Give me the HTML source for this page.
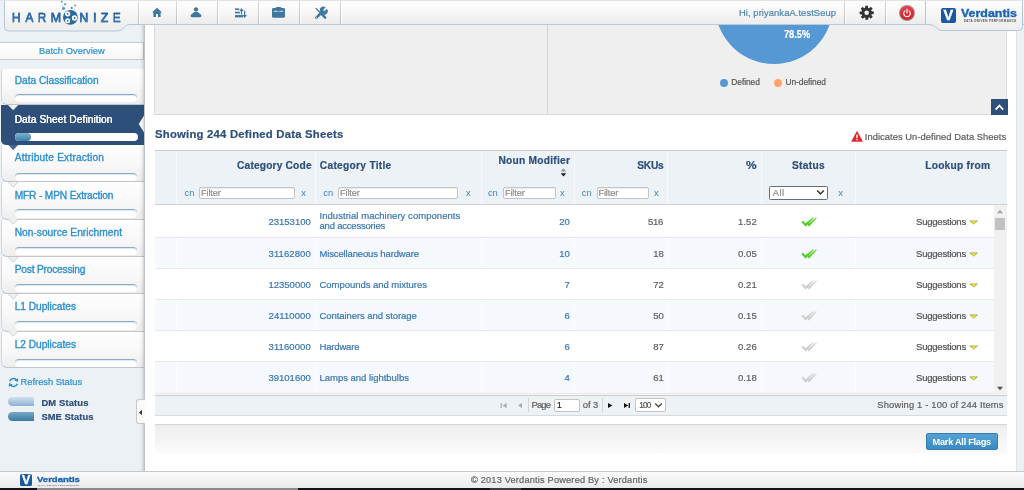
<!DOCTYPE html>
<html><head><meta charset="utf-8"><title>Harmonize</title>
<style>
html,body{margin:0;padding:0}
body{width:1024px;height:490px;position:relative;overflow:hidden;background:#fff;font-family:"Liberation Sans",sans-serif}
#w{position:absolute;left:0;top:0;width:1024px;height:490px;will-change:transform}
.a{position:absolute}
.t{position:absolute;white-space:nowrap;-webkit-text-stroke-width:0.2px}
</style></head><body><div id="w">
<div class="a" style="left:0px;top:0px;width:144.5px;height:471px;background:#ecf1f6"></div>
<div class="a" style="left:1016px;top:0px;width:8px;height:471px;background:#ecf1f6;border-left:1px solid #dde3e9;box-sizing:border-box"></div>
<div class="a" style="left:154px;top:25px;width:853px;height:90px;background:#efefef;border:1px solid #dadada;border-top:none;box-sizing:border-box;overflow:hidden"><div class="a" style="left:391.5px;top:0;width:1px;height:90px;background:#d2d2d2"></div><div class="a" style="left:559.7px;top:-79.7px;width:118.6px;height:118.6px;border-radius:60px;background:#5698d4"></div></div>
<span class="t" style="left:783.80px;top:27px;font-size:10.00px;line-height:15px;color:#fff;font-weight:bold;transform-origin:0 0;transform:scaleX(0.9203);">78.5%</span>
<div class="a" style="left:719.7px;top:78.5px;width:8px;height:8px;border-radius:4px;background:#5698d4"></div>
<span class="t" style="left:731.30px;top:75px;font-size:8.40px;line-height:14px;color:#555;font-weight:normal;letter-spacing:-0.062px;">Defined</span>
<div class="a" style="left:773.8px;top:78.5px;width:8px;height:8px;border-radius:4px;background:#ffa36c"></div>
<span class="t" style="left:785.50px;top:75px;font-size:8.40px;line-height:14px;color:#555;font-weight:normal;letter-spacing:-0.054px;">Un-defined</span>
<div class="a" style="left:991px;top:99px;width:16.5px;height:16px;background:#2d4f7a"><svg width="17" height="16" viewBox="0 0 17 16" style="position:absolute;left:0;top:0"><path d="M4.6,10.6 L8.4,6.6 L12.2,10.6" stroke="#fff" stroke-width="1.7" fill="none"/></svg></div>
<span class="t" style="left:155.00px;top:126px;font-size:11.30px;line-height:16px;color:#2d4f7a;font-weight:bold;letter-spacing:0.229px;">Showing 244 Defined Data Sheets</span>
<svg class="a" style="left:851px;top:131px" width="12" height="11" viewBox="0 0 12 11"><path d="M6,0.5 L11.3,10.3 L0.7,10.3 Z" fill="#e3242b" stroke="#e3242b" stroke-width="0.8" stroke-linejoin="round"/><rect x="5.3" y="3.6" width="1.4" height="3.6" fill="#fff"/><rect x="5.3" y="8" width="1.4" height="1.3" fill="#fff"/></svg>
<span class="t" style="left:864.80px;top:129px;font-size:9.40px;line-height:15px;color:#5c5c5c;font-weight:normal;letter-spacing:0.039px;">Indicates Un-defined Data Sheets</span>
<div class="a" style="left:155px;top:150px;width:852px;height:54.5px;background:#edf2f7;border-top:1px solid #c9c9c9;border-bottom:1px solid #cfcfcf;box-sizing:border-box"></div>
<div class="a" style="left:176px;top:151px;width:1px;height:53px;background:#f7fafc"></div>
<div class="a" style="left:315px;top:151px;width:1px;height:53px;background:#f7fafc"></div>
<div class="a" style="left:480.5px;top:151px;width:1px;height:53px;background:#f7fafc"></div>
<div class="a" style="left:573.7px;top:151px;width:1px;height:53px;background:#f7fafc"></div>
<div class="a" style="left:667.3px;top:151px;width:1px;height:53px;background:#f7fafc"></div>
<div class="a" style="left:761px;top:151px;width:1px;height:53px;background:#f7fafc"></div>
<div class="a" style="left:854.5px;top:151px;width:1px;height:53px;background:#f7fafc"></div>
<span class="t" style="left:237.00px;top:158px;font-size:10.20px;line-height:15px;color:#2d4f7a;font-weight:bold;letter-spacing:0.178px;">Category Code</span>
<span class="t" style="left:319.80px;top:158px;font-size:10.20px;line-height:15px;color:#2d4f7a;font-weight:bold;letter-spacing:0.288px;">Category Title</span>
<span class="t" style="left:498.40px;top:153px;font-size:10.20px;line-height:15px;color:#2d4f7a;font-weight:bold;letter-spacing:0.260px;">Noun Modifier</span>
<span class="t" style="left:637.30px;top:158px;font-size:10.20px;line-height:15px;color:#2d4f7a;font-weight:bold;letter-spacing:-0.262px;">SKUs</span>
<span class="t" style="left:746.00px;top:158px;font-size:10.20px;line-height:15px;color:#2d4f7a;font-weight:bold;transform-origin:0 0;transform:scaleX(1.1697);">%</span>
<span class="t" style="left:792.00px;top:158px;font-size:10.20px;line-height:15px;color:#2d4f7a;font-weight:bold;letter-spacing:0.292px;">Status</span>
<span class="t" style="left:925.20px;top:158px;font-size:10.20px;line-height:15px;color:#2d4f7a;font-weight:bold;letter-spacing:0.255px;">Lookup from</span>
<svg class="a" style="left:560px;top:168px" width="7" height="9" viewBox="0 0 7 9"><path d="M3.5,0.3 L6.3,3.6 L0.7,3.6 Z" fill="#999"/><path d="M3.5,8.6 L6.3,5.2 L0.7,5.2 Z" fill="#222"/></svg>
<span class="t" style="left:184.60px;top:185px;font-size:9.40px;line-height:15px;color:#3d84c2;font-weight:normal;letter-spacing:0.000px;-webkit-text-stroke-width:0;">cn</span><div class="a" style="left:199.2px;top:187.3px;width:95.6px;height:11.4px;background:#fff;border:1px solid #c4c4c4;border-radius:2px;box-sizing:border-box;box-shadow:inset 0 1px 1px rgba(0,0,0,.08)"></div><span class="t" style="left:201.00px;top:186px;font-size:9.20px;line-height:14px;color:#8d8d8d;font-weight:normal;letter-spacing:-0.124px;">Filter</span><span class="t" style="left:301.20px;top:185px;font-size:9.40px;line-height:15px;color:#3d84c2;font-weight:normal;letter-spacing:0.000px;-webkit-text-stroke-width:0;">x</span>
<span class="t" style="left:323.20px;top:185px;font-size:9.40px;line-height:15px;color:#3d84c2;font-weight:normal;letter-spacing:0.000px;-webkit-text-stroke-width:0;">cn</span><div class="a" style="left:338.2px;top:187.3px;width:120.3px;height:11.4px;background:#fff;border:1px solid #c4c4c4;border-radius:2px;box-sizing:border-box;box-shadow:inset 0 1px 1px rgba(0,0,0,.08)"></div><span class="t" style="left:340.00px;top:186px;font-size:9.20px;line-height:14px;color:#8d8d8d;font-weight:normal;letter-spacing:-0.124px;">Filter</span><span class="t" style="left:466.00px;top:185px;font-size:9.40px;line-height:15px;color:#3d84c2;font-weight:normal;letter-spacing:0.000px;-webkit-text-stroke-width:0;">x</span>
<span class="t" style="left:487.90px;top:185px;font-size:9.40px;line-height:15px;color:#3d84c2;font-weight:normal;letter-spacing:0.000px;-webkit-text-stroke-width:0;">cn</span><div class="a" style="left:503.1px;top:187.3px;width:52.5px;height:11.4px;background:#fff;border:1px solid #c4c4c4;border-radius:2px;box-sizing:border-box;box-shadow:inset 0 1px 1px rgba(0,0,0,.08)"></div><span class="t" style="left:504.90px;top:186px;font-size:9.20px;line-height:14px;color:#8d8d8d;font-weight:normal;letter-spacing:-0.124px;">Filter</span><span class="t" style="left:559.90px;top:185px;font-size:9.40px;line-height:15px;color:#3d84c2;font-weight:normal;letter-spacing:0.000px;-webkit-text-stroke-width:0;">x</span>
<span class="t" style="left:581.70px;top:185px;font-size:9.40px;line-height:15px;color:#3d84c2;font-weight:normal;letter-spacing:0.000px;-webkit-text-stroke-width:0;">cn</span><div class="a" style="left:596.6px;top:187.3px;width:52.7px;height:11.4px;background:#fff;border:1px solid #c4c4c4;border-radius:2px;box-sizing:border-box;box-shadow:inset 0 1px 1px rgba(0,0,0,.08)"></div><span class="t" style="left:598.40px;top:186px;font-size:9.20px;line-height:14px;color:#8d8d8d;font-weight:normal;letter-spacing:-0.124px;">Filter</span><span class="t" style="left:653.90px;top:185px;font-size:9.40px;line-height:15px;color:#3d84c2;font-weight:normal;letter-spacing:0.000px;-webkit-text-stroke-width:0;">x</span>
<div class="a" style="left:768.6px;top:186px;width:59.6px;height:14px;background:#fff;border:1.5px solid #6b6b6b;border-radius:1.5px;box-sizing:border-box"></div>
<span class="t" style="left:772.70px;top:185px;font-size:9.40px;line-height:15px;color:#8a8a8a;font-weight:normal;letter-spacing:0.439px;">All</span>
<svg class="a" style="left:816px;top:189px" width="9" height="7" viewBox="0 0 9 7"><path d="M1.2,1.6 L4.5,5 L7.8,1.6" stroke="#333" stroke-width="1.5" fill="none"/></svg>
<span class="t" style="left:838.20px;top:185px;font-size:9.40px;line-height:15px;color:#3d84c2;font-weight:normal;letter-spacing:0.000px;-webkit-text-stroke-width:0;">x</span>
<div class="a" style="left:155px;top:204.5px;width:838.5px;height:33.5px;background:#fff;border-bottom:1px solid #e9e9e9;box-sizing:border-box"></div>
<span class="t" style="left:268.51px;top:214px;font-size:9.50px;line-height:15px;color:#3a76b1;font-weight:normal;letter-spacing:-0.006px;">23153100</span>
<span class="t" style="left:319.50px;top:208px;font-size:9.50px;line-height:15px;color:#3a76b1;font-weight:normal;letter-spacing:0.045px;">Industrial machinery components</span>
<span class="t" style="left:319.50px;top:218px;font-size:9.50px;line-height:15px;color:#3a76b1;font-weight:normal;letter-spacing:-0.208px;">and accessories</span>
<span class="t" style="left:559.19px;top:214px;font-size:9.50px;line-height:15px;color:#3a76b1;font-weight:normal;letter-spacing:0.000px;">20</span>
<span class="t" style="left:647.91px;top:214px;font-size:9.50px;line-height:15px;color:#5e5e5e;font-weight:normal;letter-spacing:-0.260px;">516</span>
<span class="t" style="left:738.00px;top:214px;font-size:9.50px;line-height:15px;color:#5e5e5e;font-weight:normal;letter-spacing:0.083px;">1.52</span>
<svg class="a" style="left:799.5px;top:216.4px" width="18" height="12" viewBox="0 0 18 12"><path d="M1.50,6.00 L3.10,4.80 L5.30,7.50 L13.10,1.50 L13.60,1.90 L5.50,10.40 Z" fill="#4fce22" stroke="#4fce22" stroke-width="0.25" stroke-linejoin="round"/><path d="M6.50,7.30 L7.80,6.30 L8.90,7.70 L16.10,1.40 L16.60,1.80 L9.00,10.40 Z" fill="#4fce22" stroke="#4fce22" stroke-width="0.25" stroke-linejoin="round"/></svg>
<span class="t" style="left:916.00px;top:214px;font-size:9.50px;line-height:15px;color:#505050;font-weight:normal;letter-spacing:-0.210px;">Suggestions</span>
<svg class="a" style="left:969px;top:219.7px" width="10" height="6" viewBox="0 0 10 6"><path d="M0.9,0.9 L8.5,0.9 L4.7,4 Z" fill="#f5ea2e" stroke="#9a962e" stroke-width="0.7" stroke-linejoin="round"/></svg>
<div class="a" style="left:155px;top:238px;width:838.5px;height:31px;background:#f5f9fd;border-bottom:1px solid #e9e9e9;box-sizing:border-box"></div>
<div class="a" style="left:176px;top:238px;width:1px;height:30px;background:#fbfdfe"></div>
<div class="a" style="left:315px;top:238px;width:1px;height:30px;background:#fbfdfe"></div>
<div class="a" style="left:480.5px;top:238px;width:1px;height:30px;background:#fbfdfe"></div>
<div class="a" style="left:573.7px;top:238px;width:1px;height:30px;background:#fbfdfe"></div>
<div class="a" style="left:667.3px;top:238px;width:1px;height:30px;background:#fbfdfe"></div>
<div class="a" style="left:761px;top:238px;width:1px;height:30px;background:#fbfdfe"></div>
<div class="a" style="left:854.5px;top:238px;width:1px;height:30px;background:#fbfdfe"></div>
<span class="t" style="left:268.51px;top:246px;font-size:9.50px;line-height:15px;color:#3a76b1;font-weight:normal;letter-spacing:0.097px;">31162800</span>
<span class="t" style="left:319.50px;top:246px;font-size:9.50px;line-height:15px;color:#3a76b1;font-weight:normal;letter-spacing:-0.141px;">Miscellaneous hardware</span>
<span class="t" style="left:559.19px;top:246px;font-size:9.50px;line-height:15px;color:#3a76b1;font-weight:normal;letter-spacing:0.000px;">10</span>
<span class="t" style="left:653.19px;top:246px;font-size:9.50px;line-height:15px;color:#5e5e5e;font-weight:normal;letter-spacing:0.000px;">18</span>
<span class="t" style="left:738.00px;top:246px;font-size:9.50px;line-height:15px;color:#5e5e5e;font-weight:normal;letter-spacing:0.083px;">0.05</span>
<svg class="a" style="left:799.5px;top:248.4px" width="18" height="12" viewBox="0 0 18 12"><path d="M1.50,6.00 L3.10,4.80 L5.30,7.50 L13.10,1.50 L13.60,1.90 L5.50,10.40 Z" fill="#4fce22" stroke="#4fce22" stroke-width="0.25" stroke-linejoin="round"/><path d="M6.50,7.30 L7.80,6.30 L8.90,7.70 L16.10,1.40 L16.60,1.80 L9.00,10.40 Z" fill="#4fce22" stroke="#4fce22" stroke-width="0.25" stroke-linejoin="round"/></svg>
<span class="t" style="left:916.00px;top:246px;font-size:9.50px;line-height:15px;color:#505050;font-weight:normal;letter-spacing:-0.210px;">Suggestions</span>
<svg class="a" style="left:969px;top:251.7px" width="10" height="6" viewBox="0 0 10 6"><path d="M0.9,0.9 L8.5,0.9 L4.7,4 Z" fill="#f5ea2e" stroke="#9a962e" stroke-width="0.7" stroke-linejoin="round"/></svg>
<div class="a" style="left:155px;top:269px;width:838.5px;height:31px;background:#fff;border-bottom:1px solid #e9e9e9;box-sizing:border-box"></div>
<span class="t" style="left:268.51px;top:277px;font-size:9.50px;line-height:15px;color:#3a76b1;font-weight:normal;letter-spacing:-0.006px;">12350000</span>
<span class="t" style="left:319.50px;top:277px;font-size:9.50px;line-height:15px;color:#3a76b1;font-weight:normal;letter-spacing:-0.036px;">Compounds and mixtures</span>
<span class="t" style="left:564.47px;top:277px;font-size:9.50px;line-height:15px;color:#3a76b1;font-weight:normal;letter-spacing:0.000px;">7</span>
<span class="t" style="left:653.19px;top:277px;font-size:9.50px;line-height:15px;color:#5e5e5e;font-weight:normal;letter-spacing:0.000px;">72</span>
<span class="t" style="left:738.00px;top:277px;font-size:9.50px;line-height:15px;color:#5e5e5e;font-weight:normal;letter-spacing:0.083px;">0.21</span>
<svg class="a" style="left:799.5px;top:279.4px" width="18" height="12" viewBox="0 0 18 12"><path d="M1.50,6.00 L3.10,4.80 L5.30,7.50 L13.10,1.50 L13.60,1.90 L5.50,10.40 Z" fill="#cdcdcd" stroke="#cdcdcd" stroke-width="0.25" stroke-linejoin="round"/><path d="M6.50,7.30 L7.80,6.30 L8.90,7.70 L16.10,1.40 L16.60,1.80 L9.00,10.40 Z" fill="#cdcdcd" stroke="#cdcdcd" stroke-width="0.25" stroke-linejoin="round"/></svg>
<span class="t" style="left:916.00px;top:277px;font-size:9.50px;line-height:15px;color:#505050;font-weight:normal;letter-spacing:-0.210px;">Suggestions</span>
<svg class="a" style="left:969px;top:282.7px" width="10" height="6" viewBox="0 0 10 6"><path d="M0.9,0.9 L8.5,0.9 L4.7,4 Z" fill="#f5ea2e" stroke="#9a962e" stroke-width="0.7" stroke-linejoin="round"/></svg>
<div class="a" style="left:155px;top:300px;width:838.5px;height:31px;background:#f5f9fd;border-bottom:1px solid #e9e9e9;box-sizing:border-box"></div>
<div class="a" style="left:176px;top:300px;width:1px;height:30px;background:#fbfdfe"></div>
<div class="a" style="left:315px;top:300px;width:1px;height:30px;background:#fbfdfe"></div>
<div class="a" style="left:480.5px;top:300px;width:1px;height:30px;background:#fbfdfe"></div>
<div class="a" style="left:573.7px;top:300px;width:1px;height:30px;background:#fbfdfe"></div>
<div class="a" style="left:667.3px;top:300px;width:1px;height:30px;background:#fbfdfe"></div>
<div class="a" style="left:761px;top:300px;width:1px;height:30px;background:#fbfdfe"></div>
<div class="a" style="left:854.5px;top:300px;width:1px;height:30px;background:#fbfdfe"></div>
<span class="t" style="left:268.51px;top:308px;font-size:9.50px;line-height:15px;color:#3a76b1;font-weight:normal;letter-spacing:0.097px;">24110000</span>
<span class="t" style="left:319.50px;top:308px;font-size:9.50px;line-height:15px;color:#3a76b1;font-weight:normal;letter-spacing:-0.072px;">Containers and storage</span>
<span class="t" style="left:564.47px;top:308px;font-size:9.50px;line-height:15px;color:#3a76b1;font-weight:normal;letter-spacing:0.000px;">6</span>
<span class="t" style="left:653.19px;top:308px;font-size:9.50px;line-height:15px;color:#5e5e5e;font-weight:normal;letter-spacing:0.000px;">50</span>
<span class="t" style="left:738.00px;top:308px;font-size:9.50px;line-height:15px;color:#5e5e5e;font-weight:normal;letter-spacing:0.083px;">0.15</span>
<svg class="a" style="left:799.5px;top:310.4px" width="18" height="12" viewBox="0 0 18 12"><path d="M1.50,6.00 L3.10,4.80 L5.30,7.50 L13.10,1.50 L13.60,1.90 L5.50,10.40 Z" fill="#cdcdcd" stroke="#cdcdcd" stroke-width="0.25" stroke-linejoin="round"/><path d="M6.50,7.30 L7.80,6.30 L8.90,7.70 L16.10,1.40 L16.60,1.80 L9.00,10.40 Z" fill="#cdcdcd" stroke="#cdcdcd" stroke-width="0.25" stroke-linejoin="round"/></svg>
<span class="t" style="left:916.00px;top:308px;font-size:9.50px;line-height:15px;color:#505050;font-weight:normal;letter-spacing:-0.210px;">Suggestions</span>
<svg class="a" style="left:969px;top:313.7px" width="10" height="6" viewBox="0 0 10 6"><path d="M0.9,0.9 L8.5,0.9 L4.7,4 Z" fill="#f5ea2e" stroke="#9a962e" stroke-width="0.7" stroke-linejoin="round"/></svg>
<div class="a" style="left:155px;top:331px;width:838.5px;height:31px;background:#fff;border-bottom:1px solid #e9e9e9;box-sizing:border-box"></div>
<span class="t" style="left:268.51px;top:339px;font-size:9.50px;line-height:15px;color:#3a76b1;font-weight:normal;letter-spacing:0.097px;">31160000</span>
<span class="t" style="left:319.50px;top:339px;font-size:9.50px;line-height:15px;color:#3a76b1;font-weight:normal;letter-spacing:-0.170px;">Hardware</span>
<span class="t" style="left:564.47px;top:339px;font-size:9.50px;line-height:15px;color:#3a76b1;font-weight:normal;letter-spacing:0.000px;">6</span>
<span class="t" style="left:653.19px;top:339px;font-size:9.50px;line-height:15px;color:#5e5e5e;font-weight:normal;letter-spacing:0.000px;">87</span>
<span class="t" style="left:738.00px;top:339px;font-size:9.50px;line-height:15px;color:#5e5e5e;font-weight:normal;letter-spacing:0.083px;">0.26</span>
<svg class="a" style="left:799.5px;top:341.4px" width="18" height="12" viewBox="0 0 18 12"><path d="M1.50,6.00 L3.10,4.80 L5.30,7.50 L13.10,1.50 L13.60,1.90 L5.50,10.40 Z" fill="#cdcdcd" stroke="#cdcdcd" stroke-width="0.25" stroke-linejoin="round"/><path d="M6.50,7.30 L7.80,6.30 L8.90,7.70 L16.10,1.40 L16.60,1.80 L9.00,10.40 Z" fill="#cdcdcd" stroke="#cdcdcd" stroke-width="0.25" stroke-linejoin="round"/></svg>
<span class="t" style="left:916.00px;top:339px;font-size:9.50px;line-height:15px;color:#505050;font-weight:normal;letter-spacing:-0.210px;">Suggestions</span>
<svg class="a" style="left:969px;top:344.7px" width="10" height="6" viewBox="0 0 10 6"><path d="M0.9,0.9 L8.5,0.9 L4.7,4 Z" fill="#f5ea2e" stroke="#9a962e" stroke-width="0.7" stroke-linejoin="round"/></svg>
<div class="a" style="left:155px;top:362px;width:838.5px;height:32px;background:#f5f9fd;border-bottom:1px solid #e9e9e9;box-sizing:border-box"></div>
<div class="a" style="left:176px;top:362px;width:1px;height:31px;background:#fbfdfe"></div>
<div class="a" style="left:315px;top:362px;width:1px;height:31px;background:#fbfdfe"></div>
<div class="a" style="left:480.5px;top:362px;width:1px;height:31px;background:#fbfdfe"></div>
<div class="a" style="left:573.7px;top:362px;width:1px;height:31px;background:#fbfdfe"></div>
<div class="a" style="left:667.3px;top:362px;width:1px;height:31px;background:#fbfdfe"></div>
<div class="a" style="left:761px;top:362px;width:1px;height:31px;background:#fbfdfe"></div>
<div class="a" style="left:854.5px;top:362px;width:1px;height:31px;background:#fbfdfe"></div>
<span class="t" style="left:268.51px;top:370px;font-size:9.50px;line-height:15px;color:#3a76b1;font-weight:normal;letter-spacing:-0.006px;">39101600</span>
<span class="t" style="left:319.50px;top:370px;font-size:9.50px;line-height:15px;color:#3a76b1;font-weight:normal;letter-spacing:-0.016px;">Lamps and lightbulbs</span>
<span class="t" style="left:564.47px;top:370px;font-size:9.50px;line-height:15px;color:#3a76b1;font-weight:normal;letter-spacing:0.000px;">4</span>
<span class="t" style="left:653.19px;top:370px;font-size:9.50px;line-height:15px;color:#5e5e5e;font-weight:normal;letter-spacing:0.000px;">61</span>
<span class="t" style="left:738.00px;top:370px;font-size:9.50px;line-height:15px;color:#5e5e5e;font-weight:normal;letter-spacing:0.083px;">0.18</span>
<svg class="a" style="left:799.5px;top:372.4px" width="18" height="12" viewBox="0 0 18 12"><path d="M1.50,6.00 L3.10,4.80 L5.30,7.50 L13.10,1.50 L13.60,1.90 L5.50,10.40 Z" fill="#cdcdcd" stroke="#cdcdcd" stroke-width="0.25" stroke-linejoin="round"/><path d="M6.50,7.30 L7.80,6.30 L8.90,7.70 L16.10,1.40 L16.60,1.80 L9.00,10.40 Z" fill="#cdcdcd" stroke="#cdcdcd" stroke-width="0.25" stroke-linejoin="round"/></svg>
<span class="t" style="left:916.00px;top:370px;font-size:9.50px;line-height:15px;color:#505050;font-weight:normal;letter-spacing:-0.210px;">Suggestions</span>
<svg class="a" style="left:969px;top:375.7px" width="10" height="6" viewBox="0 0 10 6"><path d="M0.9,0.9 L8.5,0.9 L4.7,4 Z" fill="#f5ea2e" stroke="#9a962e" stroke-width="0.7" stroke-linejoin="round"/></svg>
<div class="a" style="left:993.5px;top:204.5px;width:13.5px;height:190px;background:#f1f1f1"></div>
<div class="a" style="left:995px;top:217.7px;width:10px;height:12.6px;background:#c1c1c1"></div>
<svg class="a" style="left:996px;top:209px" width="8" height="5" viewBox="0 0 8 5"><path d="M4,0.8 L7,4.2 L1,4.2 Z" fill="#a3a3a3"/></svg>
<svg class="a" style="left:996px;top:385.5px" width="8" height="5" viewBox="0 0 8 5"><path d="M4,4.2 L7,0.8 L1,0.8 Z" fill="#505050"/></svg>
<div class="a" style="left:155px;top:394px;width:852px;height:1px;background:#f6f7f8"></div>
<div class="a" style="left:155px;top:395px;width:852px;height:21px;background:#edf2f7;border-top:1px solid #cdcdcd;border-bottom:1px solid #d9d9d9;box-sizing:border-box"></div>
<svg class="a" style="left:500px;top:401.5px" width="8" height="7" viewBox="0 0 8 7"><rect x="0.6" y="1" width="1.2" height="5" fill="#a9a9a9"/><path d="M6.6,1 L6.6,6 L2.6,3.5 Z" fill="#a9a9a9"/></svg>
<svg class="a" style="left:517px;top:401.5px" width="6" height="7" viewBox="0 0 6 7"><path d="M5,1 L5,6 L1,3.5 Z" fill="#a9a9a9"/></svg>
<div class="a" style="left:527.5px;top:398px;width:1px;height:14px;background:#d5d5d5"></div>
<span class="t" style="left:531.50px;top:397px;font-size:9.40px;line-height:15px;color:#5e5e5e;font-weight:normal;letter-spacing:-0.802px;">Page</span>
<div class="a" style="left:554.4px;top:398.6px;width:25.4px;height:13.2px;background:#fff;border:1px solid #c4c4c4;border-radius:2px;box-sizing:border-box"></div>
<span class="t" style="left:557.00px;top:398px;font-size:8.60px;line-height:14px;color:#222;font-weight:normal;letter-spacing:0.000px;">1</span>
<span class="t" style="left:582.80px;top:397px;font-size:9.40px;line-height:15px;color:#5e5e5e;font-weight:normal;letter-spacing:-0.047px;">of 3</span>
<div class="a" style="left:601.5px;top:398px;width:1px;height:14px;background:#d5d5d5"></div>
<svg class="a" style="left:607px;top:401.5px" width="6" height="7" viewBox="0 0 6 7"><path d="M1,1 L1,6 L5.4,3.5 Z" fill="#111"/></svg>
<svg class="a" style="left:623px;top:401.5px" width="8" height="7" viewBox="0 0 8 7"><path d="M1,1 L1,6 L5.2,3.5 Z" fill="#111"/><rect x="5.6" y="1" width="1.3" height="5" fill="#111"/></svg>
<div class="a" style="left:635.4px;top:398.3px;width:30.8px;height:13.5px;background:#fff;border:1px solid #c4c4c4;border-radius:2px;box-sizing:border-box"></div>
<span class="t" style="left:639.30px;top:398px;font-size:8.30px;line-height:14px;color:#555;font-weight:normal;letter-spacing:-0.922px;">100</span>
<svg class="a" style="left:654px;top:402px" width="9" height="7" viewBox="0 0 9 7"><path d="M1.2,1.4 L4.5,4.8 L7.8,1.4" stroke="#4a4a4a" stroke-width="1.4" fill="none"/></svg>
<span class="t" style="left:877.30px;top:397px;font-size:9.40px;line-height:15px;color:#5e5e5e;font-weight:normal;letter-spacing:0.157px;">Showing 1 - 100 of 244 Items</span>
<div class="a" style="left:155px;top:424px;width:852px;height:28.5px;border-top:1px solid #d4d4d4;background:linear-gradient(#eeeeee,#fafafa);box-sizing:border-box"></div>
<div class="a" style="left:926.3px;top:433px;width:71.7px;height:17.3px;background:linear-gradient(#55a2d5,#3a8bc3);border:1px solid #2f7db3;border-radius:2px;box-sizing:border-box"></div>
<span class="t" style="left:932.60px;top:435px;font-size:9.20px;line-height:14px;color:#fff;font-weight:bold;letter-spacing:-0.258px;-webkit-text-stroke-width:0;">Mark All Flags</span>
<div class="a" style="left:0px;top:471px;width:1024px;height:17px;background:linear-gradient(#fbfbfb,#e9e9e9);border-top:1px solid #c6c6c6;box-sizing:border-box"></div>
<div class="a" style="left:0px;top:488px;width:1024px;height:2px;background:#10131c"></div>
<div class="a" style="left:36.5px;top:488px;width:261.5px;height:2px;background:#8a8a8a"></div>
<div class="a" style="left:489.5px;top:488px;width:31.5px;height:2px;background:#3a3d45"></div>
<div class="a" style="left:19.8px;top:473.7px;width:12.5px;height:12.5px;background:#1b58a1;border-radius:1.625px"></div><span class="a" style="left:19.8px;top:473.7px;width:12.5px;text-align:center;color:#fff;font-weight:bold;font-size:12.5px;line-height:13.25px;-webkit-text-stroke:0.4px #fff">V</span><span class="t" style="left:36.70px;top:473px;font-size:7.80px;line-height:13px;color:#1c63b3;font-weight:bold;transform-origin:0 0;transform:scaleX(1.2219);-webkit-text-stroke:0.35px #1c63b3;">Verdantis</span><span class="t" style="left:38.60px;top:482px;font-size:2.20px;line-height:6px;color:#55555c;font-weight:bold;letter-spacing:0.364px;-webkit-text-stroke-width:0;">DATA DRIVEN PERFORMANCE</span>
<span class="t" style="left:471.00px;top:473px;font-size:9.20px;line-height:14px;color:#636363;font-weight:normal;letter-spacing:0.201px;">&copy; 2013 Verdantis Powered By : Verdantis</span>
<div class="a" style="left:0px;top:41.5px;width:143.5px;height:18px;background:linear-gradient(#fff,#f6f6f6);border:1px solid #c8c8c8;border-left:none;box-sizing:border-box"></div>
<span class="t" style="left:39.00px;top:44px;font-size:9.30px;line-height:14px;color:#2b8fcf;font-weight:normal;letter-spacing:0.053px;">Batch Overview</span>
<div class="a" style="left:1px;top:68.75px;width:142.5px;height:36.25px;background:linear-gradient(#fefefe 0,#f8f8f8 55%,#ededed 100%);border-radius:2px 0 0 6px;border-left:1px solid #d5d8db;border-bottom:1px solid #c3c6c9;box-sizing:border-box"></div>
<span class="t" style="left:14.70px;top:73px;font-size:10.20px;line-height:15px;color:#2b8fcf;font-weight:normal;letter-spacing:-0.021px;-webkit-text-stroke-width:0.33px;">Data Classification</span>
<div class="a" style="left:15.3px;top:94.2px;width:122.2px;height:8.3px;background:#fff;border-radius:4.2px;border-top:1px solid #8fa9c4;box-sizing:border-box;box-shadow:inset 0 1px 1px rgba(70,110,160,.18)"></div>
<div class="a" style="left:1px;top:105px;width:142.5px;height:40px;background:#2d4f7a;border-radius:0 0 0 5px"></div>
<svg class="a" style="left:137px;top:115px" width="7" height="18" viewBox="0 0 7 18"><path d="M7,0.6 L1.8,9 L7,17.4 Z" fill="#fff"/></svg>
<span class="t" style="left:14.70px;top:112px;font-size:10.20px;line-height:15px;color:#fff;font-weight:normal;letter-spacing:0.076px;text-shadow:0 0 0.6px #fff;">Data Sheet Definition</span>
<div class="a" style="left:15px;top:132.7px;width:122.5px;height:8.2px;background:#fff;border-radius:4.1px;overflow:hidden"><div style="width:15.5px;height:8.2px;border-radius:4px;background:linear-gradient(#7db2d0,#3f7fa8)"></div></div>
<div class="a" style="left:1px;top:145px;width:142.5px;height:37.2px;background:linear-gradient(#fefefe 0,#f8f8f8 55%,#ededed 100%);border-radius:2px 0 0 6px;border-left:1px solid #d5d8db;border-bottom:1px solid #c3c6c9;box-sizing:border-box"></div>
<span class="t" style="left:14.70px;top:150px;font-size:10.20px;line-height:15px;color:#2b8fcf;font-weight:normal;letter-spacing:0.170px;-webkit-text-stroke-width:0.33px;">Attribute Extraction</span>
<div class="a" style="left:15.3px;top:172.8px;width:122.2px;height:8.3px;background:#fff;border-radius:4.2px;border-top:1px solid #8fa9c4;box-sizing:border-box;box-shadow:inset 0 1px 1px rgba(70,110,160,.18)"></div>
<div class="a" style="left:1px;top:182.2px;width:142.5px;height:37.5px;background:linear-gradient(#fefefe 0,#f8f8f8 55%,#ededed 100%);border-radius:2px 0 0 6px;border-left:1px solid #d5d8db;border-bottom:1px solid #c3c6c9;box-sizing:border-box"></div>
<span class="t" style="left:14.70px;top:188px;font-size:10.20px;line-height:15px;color:#2b8fcf;font-weight:normal;letter-spacing:-0.163px;-webkit-text-stroke-width:0.33px;">MFR - MPN Extraction</span>
<div class="a" style="left:15.3px;top:209.4px;width:122.2px;height:8.3px;background:#fff;border-radius:4.2px;border-top:1px solid #8fa9c4;box-sizing:border-box;box-shadow:inset 0 1px 1px rgba(70,110,160,.18)"></div>
<div class="a" style="left:1px;top:219.7px;width:142.5px;height:37.3px;background:linear-gradient(#fefefe 0,#f8f8f8 55%,#ededed 100%);border-radius:2px 0 0 6px;border-left:1px solid #d5d8db;border-bottom:1px solid #c3c6c9;box-sizing:border-box"></div>
<span class="t" style="left:14.70px;top:225px;font-size:10.20px;line-height:15px;color:#2b8fcf;font-weight:normal;letter-spacing:0.014px;-webkit-text-stroke-width:0.33px;">Non-source Enrichment</span>
<div class="a" style="left:15.3px;top:246.7px;width:122.2px;height:8.3px;background:#fff;border-radius:4.2px;border-top:1px solid #8fa9c4;box-sizing:border-box;box-shadow:inset 0 1px 1px rgba(70,110,160,.18)"></div>
<div class="a" style="left:1px;top:257px;width:142.5px;height:37.3px;background:linear-gradient(#fefefe 0,#f8f8f8 55%,#ededed 100%);border-radius:2px 0 0 6px;border-left:1px solid #d5d8db;border-bottom:1px solid #c3c6c9;box-sizing:border-box"></div>
<span class="t" style="left:14.70px;top:262px;font-size:10.20px;line-height:15px;color:#2b8fcf;font-weight:normal;letter-spacing:-0.202px;-webkit-text-stroke-width:0.33px;">Post Processing</span>
<div class="a" style="left:15.3px;top:284px;width:122.2px;height:8.3px;background:#fff;border-radius:4.2px;border-top:1px solid #8fa9c4;box-sizing:border-box;box-shadow:inset 0 1px 1px rgba(70,110,160,.18)"></div>
<div class="a" style="left:1px;top:294.3px;width:142.5px;height:37.3px;background:linear-gradient(#fefefe 0,#f8f8f8 55%,#ededed 100%);border-radius:2px 0 0 6px;border-left:1px solid #d5d8db;border-bottom:1px solid #c3c6c9;box-sizing:border-box"></div>
<span class="t" style="left:14.70px;top:299px;font-size:10.20px;line-height:15px;color:#2b8fcf;font-weight:normal;letter-spacing:-0.036px;-webkit-text-stroke-width:0.33px;">L1 Duplicates</span>
<div class="a" style="left:15.3px;top:321.3px;width:122.2px;height:8.3px;background:#fff;border-radius:4.2px;border-top:1px solid #8fa9c4;box-sizing:border-box;box-shadow:inset 0 1px 1px rgba(70,110,160,.18)"></div>
<div class="a" style="left:1px;top:331.6px;width:142.5px;height:36.9px;background:linear-gradient(#fefefe 0,#f8f8f8 55%,#ededed 100%);border-radius:2px 0 0 6px;border-left:1px solid #d5d8db;border-bottom:1px solid #c3c6c9;box-sizing:border-box"></div>
<span class="t" style="left:14.70px;top:337px;font-size:10.20px;line-height:15px;color:#2b8fcf;font-weight:normal;letter-spacing:-0.036px;-webkit-text-stroke-width:0.33px;">L2 Duplicates</span>
<div class="a" style="left:15.3px;top:358.6px;width:122.2px;height:8.3px;background:#fff;border-radius:4.2px;border-top:1px solid #8fa9c4;box-sizing:border-box;box-shadow:inset 0 1px 1px rgba(70,110,160,.18)"></div>
<svg class="a" style="left:8px;top:104.5px" width="11" height="6" viewBox="0 0 11 6"><path d="M-0.2,-0.5 L5.2,5.1 L10.6,-0.5 Z" fill="#efefef" stroke="#c3c6c9" stroke-width="0.8"/></svg>
<svg class="a" style="left:8px;top:144.5px" width="11" height="6" viewBox="0 0 11 6"><path d="M-0.2,-0.5 L5.2,5.1 L10.6,-0.5 Z" fill="#486589"/></svg>
<svg class="a" style="left:8px;top:181.7px" width="11" height="6" viewBox="0 0 11 6"><path d="M-0.2,-0.5 L5.2,5.1 L10.6,-0.5 Z" fill="#efefef" stroke="#c3c6c9" stroke-width="0.8"/></svg>
<svg class="a" style="left:8px;top:219.2px" width="11" height="6" viewBox="0 0 11 6"><path d="M-0.2,-0.5 L5.2,5.1 L10.6,-0.5 Z" fill="#efefef" stroke="#c3c6c9" stroke-width="0.8"/></svg>
<svg class="a" style="left:8px;top:256.5px" width="11" height="6" viewBox="0 0 11 6"><path d="M-0.2,-0.5 L5.2,5.1 L10.6,-0.5 Z" fill="#efefef" stroke="#c3c6c9" stroke-width="0.8"/></svg>
<svg class="a" style="left:8px;top:293.8px" width="11" height="6" viewBox="0 0 11 6"><path d="M-0.2,-0.5 L5.2,5.1 L10.6,-0.5 Z" fill="#efefef" stroke="#c3c6c9" stroke-width="0.8"/></svg>
<svg class="a" style="left:8px;top:331.1px" width="11" height="6" viewBox="0 0 11 6"><path d="M-0.2,-0.5 L5.2,5.1 L10.6,-0.5 Z" fill="#efefef" stroke="#c3c6c9" stroke-width="0.8"/></svg>
<svg class="a" style="left:8px;top:376.5px;transform:scaleX(-1)" width="11" height="11" viewBox="0 0 11 11"><g stroke="#2b8fcf" stroke-width="1.5" fill="none"><path d="M9.3,4.2 A4,4 0 0 0 2,3.6"/><path d="M1.7,6.8 A4,4 0 0 0 9,7.4"/></g><path d="M0.6,1.2 L1.2,5 L4.6,3.6 Z" fill="#2b8fcf"/><path d="M10.4,9.8 L9.8,6 L6.4,7.4 Z" fill="#2b8fcf"/></svg>
<span class="t" style="left:20.60px;top:375px;font-size:9.30px;line-height:14px;color:#2b8fcf;font-weight:normal;letter-spacing:0.008px;">Refresh Status</span>
<div class="a" style="left:7.6px;top:397px;width:26px;height:9px;border-radius:4.5px 0 0 4.5px;background:linear-gradient(#cfe0ee,#8db1d1)"></div>
<span class="t" style="left:41.40px;top:395px;font-size:9.40px;line-height:15px;color:#2d4f7a;font-weight:bold;letter-spacing:0.145px;">DM Status</span>
<div class="a" style="left:7.6px;top:411.8px;width:26px;height:9px;border-radius:4.5px 0 0 4.5px;background:linear-gradient(#74a9c7,#3a7aa3)"></div>
<span class="t" style="left:41.40px;top:409px;font-size:9.40px;line-height:15px;color:#2d4f7a;font-weight:bold;letter-spacing:0.058px;">SME Status</span>
<div class="a" style="left:140px;top:25px;width:4.5px;height:446px;background:linear-gradient(to right,rgba(0,0,0,0) 0,rgba(60,65,70,.08) 45%,rgba(60,65,70,.3) 100%)"></div>
<div class="a" style="left:135.7px;top:399px;width:9px;height:25px;background:#fafafa;border:1px solid #c8c8c8;border-right:none;border-radius:3px 0 0 3px;box-sizing:border-box"></div>
<svg class="a" style="left:138px;top:408.5px" width="5" height="7" viewBox="0 0 5 7"><path d="M4,0.8 L4,6.2 L1,3.5 Z" fill="#333"/></svg>
<div class="a" style="left:130px;top:0px;width:894px;height:24px;background:linear-gradient(#e2e2e2 0,#e2e2e2 1px,#fdfdfd 1px,#fbfbfb 30%,#ececec 100%);border-bottom:1px solid #b7cad9"></div>
<svg class="a" style="left:0;top:0" width="145" height="36" viewBox="0 0 145 36"><defs><linearGradient id="lg1" x1="0" y1="0" x2="0" y2="1"><stop offset="0" stop-color="#fefefe"/><stop offset="1" stop-color="#ececec"/></linearGradient></defs><path d="M4.5,0 L4.5,27 Q4.5,31 8.5,31 L117.5,31 Q121.5,31 123.7,27.8 Q125.8,24.5 129.5,24.5 L139,24.5 L139,0 Z" fill="url(#lg1)" stroke="#b2c8da" stroke-width="1"/><rect x="0" y="0" width="145" height="1" fill="#e4e4e4"/></svg>
<div class="a" style="left:138px;top:1px;width:1px;height:23px;background:linear-gradient(#d9d9d9,#bdbdbd)"></div>
<div class="a" style="left:139px;top:1px;width:1px;height:23px;background:#fff"></div>
<div class="a" style="left:176px;top:1px;width:1px;height:23px;background:linear-gradient(#d9d9d9,#bdbdbd)"></div>
<div class="a" style="left:177px;top:1px;width:1px;height:23px;background:#fff"></div>
<div class="a" style="left:217px;top:1px;width:1px;height:23px;background:linear-gradient(#d9d9d9,#bdbdbd)"></div>
<div class="a" style="left:218px;top:1px;width:1px;height:23px;background:#fff"></div>
<div class="a" style="left:258px;top:1px;width:1px;height:23px;background:linear-gradient(#d9d9d9,#bdbdbd)"></div>
<div class="a" style="left:259px;top:1px;width:1px;height:23px;background:#fff"></div>
<div class="a" style="left:299px;top:1px;width:1px;height:23px;background:linear-gradient(#d9d9d9,#bdbdbd)"></div>
<div class="a" style="left:300px;top:1px;width:1px;height:23px;background:#fff"></div>
<div class="a" style="left:340px;top:1px;width:1px;height:23px;background:linear-gradient(#d9d9d9,#bdbdbd)"></div>
<div class="a" style="left:341px;top:1px;width:1px;height:23px;background:#fff"></div>
<div class="a" style="left:844px;top:1px;width:1px;height:23px;background:linear-gradient(#d9d9d9,#bdbdbd)"></div>
<div class="a" style="left:845px;top:1px;width:1px;height:23px;background:#fff"></div>
<div class="a" style="left:885px;top:1px;width:1px;height:23px;background:linear-gradient(#d9d9d9,#bdbdbd)"></div>
<div class="a" style="left:886px;top:1px;width:1px;height:23px;background:#fff"></div>
<div class="a" style="left:925px;top:1px;width:1px;height:23px;background:linear-gradient(#d9d9d9,#bdbdbd)"></div>
<div class="a" style="left:926px;top:1px;width:1px;height:23px;background:#fff"></div>
<span class="a" style="left:12.9px;top:11px;width:6.9px;text-align:center;font-size:12.4px;line-height:14px;font-weight:normal;-webkit-text-stroke:0.55px #2f6aa8;color:#2f6aa8;display:block;background:linear-gradient(#1f5a9b 20%,#4a8cc5 85%);-webkit-background-clip:text;-webkit-text-fill-color:transparent"><span style="display:inline-block;margin:0 -5px">H</span></span>
<span class="a" style="left:25.6px;top:11px;width:7.4px;text-align:center;font-size:12.4px;line-height:14px;font-weight:normal;-webkit-text-stroke:0.55px #2f6aa8;color:#2f6aa8;display:block;background:linear-gradient(#1f5a9b 20%,#4a8cc5 85%);-webkit-background-clip:text;-webkit-text-fill-color:transparent"><span style="display:inline-block;margin:0 -5px">A</span></span>
<span class="a" style="left:38.8px;top:11px;width:6.6px;text-align:center;font-size:12.4px;line-height:14px;font-weight:normal;-webkit-text-stroke:0.55px #2f6aa8;color:#2f6aa8;display:block;background:linear-gradient(#1f5a9b 20%,#4a8cc5 85%);-webkit-background-clip:text;-webkit-text-fill-color:transparent"><span style="display:inline-block;margin:0 -5px">R</span></span>
<span class="a" style="left:51.2px;top:11px;width:9.6px;text-align:center;font-size:12.4px;line-height:14px;font-weight:normal;-webkit-text-stroke:0.55px #2f6aa8;color:#2f6aa8;display:block;background:linear-gradient(#1f5a9b 20%,#4a8cc5 85%);-webkit-background-clip:text;-webkit-text-fill-color:transparent"><span style="display:inline-block;margin:0 -5px">M</span></span>
<span class="a" style="left:79.8px;top:11px;width:8px;text-align:center;font-size:12.4px;line-height:14px;font-weight:normal;-webkit-text-stroke:0.55px #2f6aa8;color:#2f6aa8;display:block;background:linear-gradient(#1f5a9b 20%,#4a8cc5 85%);-webkit-background-clip:text;-webkit-text-fill-color:transparent"><span style="display:inline-block;margin:0 -5px">N</span></span>
<span class="a" style="left:93.7px;top:11px;width:2.2px;text-align:center;font-size:12.4px;line-height:14px;font-weight:normal;-webkit-text-stroke:0.55px #2f6aa8;color:#2f6aa8;display:block;background:linear-gradient(#1f5a9b 20%,#4a8cc5 85%);-webkit-background-clip:text;-webkit-text-fill-color:transparent"><span style="display:inline-block;margin:0 -5px">I</span></span>
<span class="a" style="left:101px;top:11px;width:7.3px;text-align:center;font-size:12.4px;line-height:14px;font-weight:normal;-webkit-text-stroke:0.55px #2f6aa8;color:#2f6aa8;display:block;background:linear-gradient(#1f5a9b 20%,#4a8cc5 85%);-webkit-background-clip:text;-webkit-text-fill-color:transparent"><span style="display:inline-block;margin:0 -5px">Z</span></span>
<span class="a" style="left:113.5px;top:11px;width:6.5px;text-align:center;font-size:12.4px;line-height:14px;font-weight:normal;-webkit-text-stroke:0.55px #2f6aa8;color:#2f6aa8;display:block;background:linear-gradient(#1f5a9b 20%,#4a8cc5 85%);-webkit-background-clip:text;-webkit-text-fill-color:transparent"><span style="display:inline-block;margin:0 -5px">E</span></span>
<svg class="a" style="left:58px;top:0" width="24" height="27" viewBox="0 0 24 27"><circle cx="12.4" cy="17.3" r="7.4" fill="#27699f"/><circle cx="9.7" cy="13.8" r="2.6" fill="#fff"/><circle cx="9.7" cy="13.8" r="0.9" fill="#27699f"/><circle cx="16.5" cy="18" r="2.7" fill="#fff"/><circle cx="16.5" cy="18" r="0.95" fill="#27699f"/><circle cx="9.7" cy="20.8" r="2.5" fill="#fff"/><circle cx="9.7" cy="20.8" r="0.9" fill="#27699f"/><circle cx="3.75" cy="1.7" r="0.9" fill="#4f8fca"/><circle cx="7" cy="4.3" r="1.05" fill="#4f8fca"/><circle cx="5.5" cy="8.4" r="1.6" fill="#5b9bd2"/><circle cx="17.1" cy="5.4" r="0.85" fill="#4f8fca"/><circle cx="13.7" cy="8" r="1.15" fill="#4f8fca"/><circle cx="4.5" cy="4.8" r="0.45" fill="#8bb8de"/><circle cx="16.5" cy="8.3" r="0.45" fill="#8bb8de"/><circle cx="8.4" cy="10.6" r="0.4" fill="#8bb8de"/></svg>
<svg class="a" style="left:151px;top:7px" width="12" height="11" viewBox="0 0 12 11"><path d="M6,0.8 L11,5.6 L9.6,5.6 L9.6,10 L7,10 L7,7 L5,7 L5,10 L2.4,10 L2.4,5.6 L1,5.6 Z" fill="#3f789e"/></svg>
<svg class="a" style="left:0;top:0" width="1024" height="30" viewBox="0 0 1024 30"><g fill="#3f789e"><circle cx="196" cy="9.4" r="2.15"/><path d="M190.6,15.7 Q190.6,14.6 192,13.9 L193.8,12.3 Q196,11.3 198.2,12.3 L200,13.9 Q201.4,14.6 201.4,15.7 Q201.4,17.3 199.6,17.3 L192.4,17.3 Q190.6,17.3 190.6,15.7 Z"/><rect x="235" y="8.4" width="4.2" height="1.6"/><rect x="235" y="11.7" width="4.8" height="1.7"/><rect x="235" y="15.1" width="8" height="2.3"/><path d="M241.5,8 L243.7,11 L242.1,11 L242.1,14.4 L240.9,14.4 L240.9,11 L239.3,11 Z"/><path d="M244.7,18 L247,14.9 L245.3,14.9 L245.3,10.8 L244.1,10.8 L244.1,14.9 L242.4,14.9 Z"/><rect x="275.8" y="7.1" width="5.4" height="2" rx="0.7"/><rect x="272" y="8" width="13" height="9.8" rx="1.4"/></g><rect x="273.6" y="10.8" width="3.6" height="0.9" fill="#e3ecf2"/><rect x="279.8" y="10.8" width="3.6" height="0.9" fill="#e3ecf2"/><rect x="277.2" y="11.2" width="2.6" height="0.7" fill="#b9cfdd"/><g stroke="#3f789e" fill="none" stroke-linecap="round"><path d="M316.4,17.6 L321.8,12.2" stroke-width="2.7"/><path d="M316,8.4 L320.6,13" stroke-width="1.3"/><path d="M321.8,14.2 L325.2,17.7" stroke-width="2.5"/></g><path d="M319.9,10.9 A3.6,3.6 0 0 1 325.6,7.3 L323.2,9.9 L324.4,11.2 L327,8.7 A3.6,3.6 0 0 1 322.8,14.3 Z" fill="#3f789e"/><circle cx="316.6" cy="17.4" r="0.55" fill="#dfe9f0"/></svg>
<span class="t" style="left:739.00px;top:5px;font-size:9.40px;line-height:15px;color:#4d84b0;font-weight:normal;letter-spacing:0.077px;">Hi, priyankaA.testSeup</span>
<svg class="a" style="left:858px;top:4px" width="18" height="18" viewBox="0 0 18 18"><path d="M15.76,7.38 L15.76,10.22 L13.74,10.07 L13.36,11.11 L14.69,12.79 L12.69,14.79 L11.36,13.27 L10.37,13.73 L10.12,15.86 L7.28,15.86 L7.43,13.84 L6.39,13.46 L4.71,14.79 L2.71,12.79 L4.23,11.46 L3.77,10.47 L1.64,10.22 L1.64,7.38 L3.66,7.53 L4.04,6.49 L2.71,4.81 L4.71,2.81 L6.04,4.33 L7.03,3.87 L7.28,1.74 L10.12,1.74 L9.97,3.76 L11.01,4.14 L12.69,2.81 L14.69,4.81 L13.17,6.14 L13.63,7.13 Z" fill="#333"/><circle cx="8.7" cy="8.8" r="2.3" fill="#f5f5f5"/></svg>
<svg class="a" style="left:898px;top:4px" width="18" height="18" viewBox="0 0 18 18"><circle cx="9" cy="9" r="8" fill="#9a9a9a"/><defs><linearGradient id="pg" x1="0" y1="0" x2="0" y2="1"><stop offset="0" stop-color="#e6424a"/><stop offset="1" stop-color="#cf1f27"/></linearGradient></defs><circle cx="9" cy="9" r="7.1" fill="url(#pg)"/><path d="M6.9,6.9 A3.3,3.3 0 1 0 11.1,6.9" stroke="#fff" stroke-width="1.15" fill="none" stroke-linecap="round"/><path d="M9,5 L9,9" stroke="#fff" stroke-width="1.15" stroke-linecap="round"/></svg>
<svg class="a" style="left:900px;top:0" width="124" height="36" viewBox="900 0 124 36"><path d="M925.5,0 L925.5,24.5 L929,24.5 Q933.5,24.5 936,27.5 Q938.5,30.5 942,30.5 L1018.5,30.5 Q1022.5,30.5 1022.5,26.5 L1022.5,0 Z" fill="url(#lg1)" stroke="#b2c8da"/><rect x="900" y="0" width="124" height="1" fill="#e4e4e4"/></svg>
<div class="a" style="left:941px;top:8.1px;width:14.5px;height:14.5px;background:#1b58a1;border-radius:1.885px"></div><span class="a" style="left:941px;top:8.1px;width:14.5px;text-align:center;color:#fff;font-weight:bold;font-size:14.5px;line-height:15.37px;-webkit-text-stroke:0.4px #fff">V</span><span class="t" style="left:961.10px;top:6px;font-size:10.40px;line-height:15px;color:#1c63b3;font-weight:bold;transform-origin:0 0;transform:scaleX(1.1949);-webkit-text-stroke:0.35px #1c63b3;">Verdantis</span><span class="t" style="left:963.70px;top:17px;font-size:3.00px;line-height:8px;color:#55555c;font-weight:bold;letter-spacing:0.378px;-webkit-text-stroke-width:0;">DATA DRIVEN PERFORMANCE</span>
</div></body></html>
